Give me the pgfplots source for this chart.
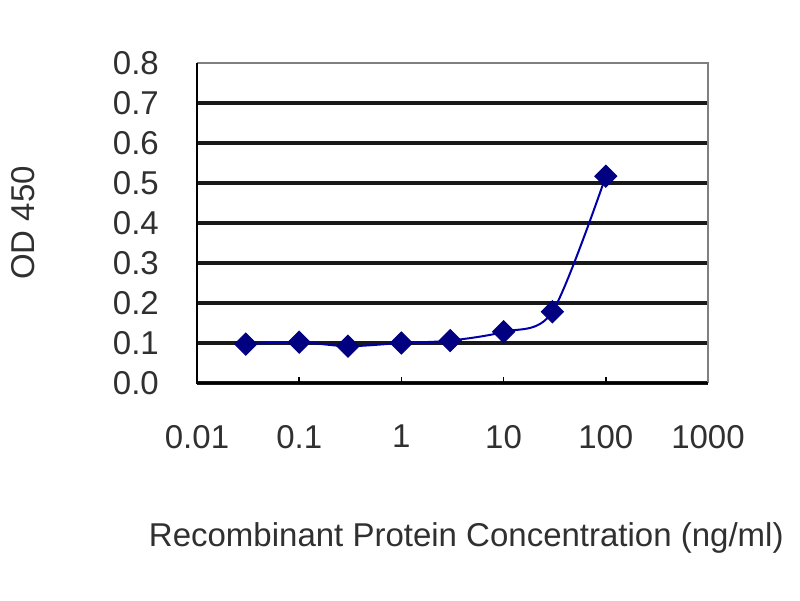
\documentclass[border=0pt]{standalone}
\usepackage{pgfplots}
\pgfplotsset{compat=1.18}
\usepackage{fontspec}
\setmainfont{Liberation Sans}
\definecolor{navymark}{HTML}{000080}
\definecolor{txt}{HTML}{303030}
\begin{document}
\begin{tikzpicture}
\path[use as bounding box] (0,0) rectangle (800pt,600pt);
\begin{axis}[
	at={(197pt,217pt)}, anchor=south west,
	scale only axis, width=511pt, height=320pt,
	clip=false,
	xmode=log, log basis x=10,
	xmin=0.01, xmax=1000,
	ymin=0, ymax=0.8,
	xtick={0.01,0.1,1,10,100,1000},
	xticklabels={0.01,0.1,1,10,100,1000},
	xminorticks=false,
	ytick={0,0.1,0.2,0.3,0.4,0.5,0.6,0.7,0.8},
	yticklabels={0.0,0.1,0.2,0.3,0.4,0.5,0.6,0.7,0.8},
	ymajorgrids=true,
	grid style={black!90, line width=3.2pt},
	xtick pos=bottom, ytick pos=left,
	tick align=inside,
	xtick style={black, line width=1.5pt},
	major tick length=6pt,
	ytick style={draw=none},
	axis line style={draw=none},
	tick label style={font=\fontsize{33}{40}\selectfont, text=txt},
	xticklabel style={inner sep=0pt, anchor=north, yshift=-42pt},
	yticklabel style={inner sep=0pt, anchor=east, xshift=-38pt},
	label style={font=\fontsize{33}{40}\selectfont, text=txt},
	xlabel={Recombinant Protein Concentration (ng/ml)},
	ylabel={OD 450},
	xlabel style={at={(axis description cs:0.527,-0.485)}, anchor=center},
	ylabel style={at={(axis description cs:-0.34,0.5)}, anchor=center, rotate=0},
]
\draw[white, line width=4pt] (rel axis cs:0,1) -- (rel axis cs:1,1);
\draw[gray, line width=1.8pt] (rel axis cs:0,1) -- (rel axis cs:1,1) -- (rel axis cs:1,0);
\draw[black, line width=2.4pt] (rel axis cs:0,1) -- (rel axis cs:0,0) -- (rel axis cs:1,0);
\addplot[color=navymark!70!blue, line width=2pt, smooth,
	mark=square*, mark size=7.8pt,
	mark options={rotate=45, fill=navymark, draw=navymark, line width=1pt}]
	coordinates {(0.03,0.097)(0.1,0.102)(0.3,0.092)(1,0.100)(3,0.106)(10,0.128)(30,0.178)(100,0.517)};
\end{axis}
\end{tikzpicture}
\end{document}
